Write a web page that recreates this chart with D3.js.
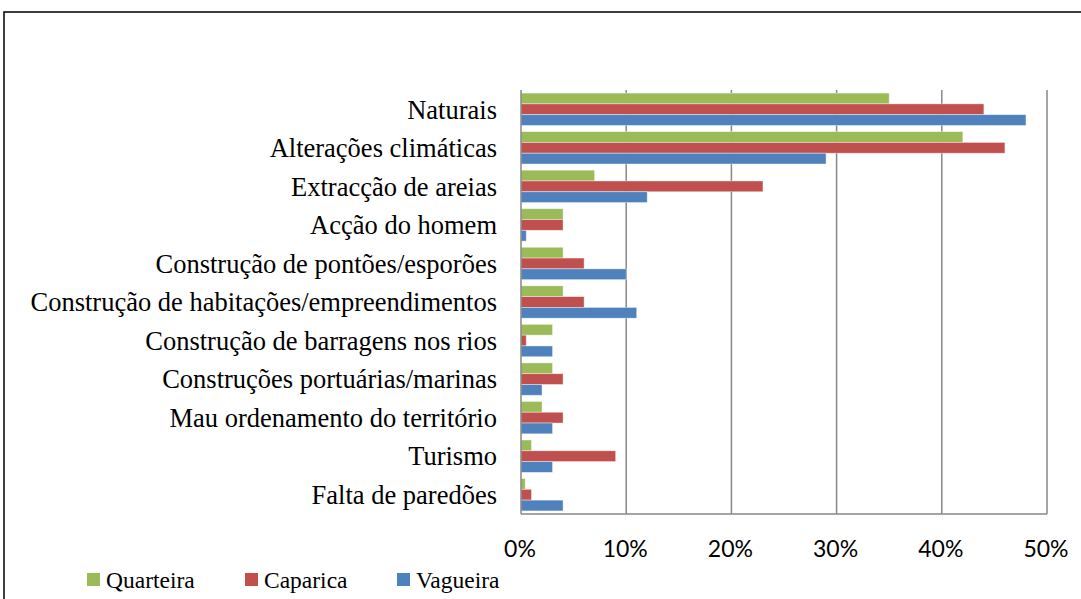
<body style="margin:0">
  <script src='https://d3js.org/d3.v7.min.js' charset='utf-8'></script>
  <script>

    var svgArea = { width: 1081, height: 599 };

    var categories = [
      'Naturais',
      'Alterações climáticas',
      'Extracção de areias',
      'Acção do homem',
      'Construção de pontões/esporões',
      'Construção de habitações/empreendimentos',
      'Construção de barragens nos rios',
      'Construções portuárias/marinas',
      'Mau ordenamento do território',
      'Turismo',
      'Falta de paredões'
    ];

    var seriesNames = ['Quarteira', 'Caparica', 'Vagueira'];

    // percentages, same order as categories
    var quarteira = [35, 42, 7, 4, 4, 4, 3, 3, 2, 1, 0.4];
    var caparica  = [44, 46, 23, 4, 6, 6, 0.5, 4, 4, 9, 1];
    var vagueira  = [48, 29, 12, 0.5, 10, 11, 3, 2, 3, 3, 4];

    var xTicks = [0, 10, 20, 30, 40, 50];

    var colors = {
      Quarteira: '#9BBB59',
      Caparica: '#C0504D',
      Vagueira: '#4F81BD'
    };

    var values = { Quarteira: quarteira, Caparica: caparica, Vagueira: vagueira };

    var plot = { left: 521, right: 1047, top: 90, bottom: 514 };

    const svg = d3.select('body').append('svg')
      .attr('width', svgArea['width'])
      .attr('height', svgArea['height'])
      .style('display', 'block');

    // outer frame (runs off the right and bottom edge)
    svg.append('rect')
      .attr('x', 4).attr('y', 12)
      .attr('width', 1100).attr('height', 620)
      .attr('fill', 'white')
      .attr('stroke', '#000')
      .attr('stroke-width', 1.5);

    var xScale = d3.scaleLinear()
      .domain([0, 50])
      .range([plot.left, plot.right]);

    var yScale = d3.scaleBand()
      .domain(categories)
      .range([plot.top, plot.bottom])
      .paddingInner(0.16)
      .paddingOuter(0.08);

    var ySub = d3.scaleBand()
      .domain(seriesNames)
      .range([0, yScale.bandwidth()]);

    // gridlines
    svg.append('g')
      .selectAll('line')
      .data(xTicks.slice(1))
      .join('line')
        .attr('x1', d => xScale(d)).attr('x2', d => xScale(d))
        .attr('y1', plot.top).attr('y2', plot.bottom)
        .attr('stroke', '#878787')
        .attr('stroke-width', 1.5);

    // bars
    var groups = svg.append('g')
      .selectAll('g')
      .data(categories)
      .join('g')
        .attr('transform', d => `translate(0,${yScale(d)})`);

    groups.selectAll('rect')
      .data((cat, i) => seriesNames.map(s => ({ key: s, value: values[s][i] })))
      .join('rect')
        .attr('x', xScale(0))
        .attr('y', d => ySub(d.key))
        .attr('width', d => xScale(d.value) - xScale(0))
        .attr('height', ySub.bandwidth())
        .attr('fill', d => colors[d.key])
        .attr('stroke', 'rgba(255,255,255,0.5)')
        .attr('stroke-width', 0.8);

    // axis lines
    svg.append('line')
      .attr('x1', plot.left).attr('x2', plot.left)
      .attr('y1', plot.top).attr('y2', plot.bottom)
      .attr('stroke', '#878787').attr('stroke-width', 1.5);
    svg.append('line')
      .attr('x1', plot.left).attr('x2', plot.right)
      .attr('y1', plot.bottom).attr('y2', plot.bottom)
      .attr('stroke', '#878787').attr('stroke-width', 1.5);

    // category labels
    svg.append('g')
      .selectAll('text')
      .data(categories)
      .join('text')
        .attr('x', 497)
        .attr('y', d => yScale(d) + yScale.bandwidth() / 2)
        .attr('dy', '0.35em')
        .attr('text-anchor', 'end')
        .attr('font-family', '"Liberation Serif", "Times New Roman", serif')
        .attr('font-size', 26.5)
        .attr('fill', '#000')
        .text(d => d);

    // x tick labels
    svg.append('g')
      .selectAll('text')
      .data(xTicks)
      .join('text')
        .attr('x', d => xScale(d) - 1)
        .attr('y', 557)
        .attr('text-anchor', 'middle')
        .attr('font-family', 'Lato, "Open Sans", sans-serif')
        .attr('font-size', 23)
        .attr('fill', '#000')
        .text(d => d + '%');

    // legend
    var legendX = [87, 245, 397];
    var legend = svg.append('g')
      .selectAll('g')
      .data(seriesNames)
      .join('g')
        .attr('transform', (d, i) => `translate(${legendX[i]},573)`);

    legend.append('rect')
      .attr('width', 13).attr('height', 13)
      .attr('fill', d => colors[d]);

    legend.append('text')
      .attr('x', 19).attr('y', 15)
      .attr('font-family', '"Liberation Serif", "Times New Roman", serif')
      .attr('font-size', 23.5)
      .attr('fill', '#000')
      .text(d => d);
  </script>
</body>
